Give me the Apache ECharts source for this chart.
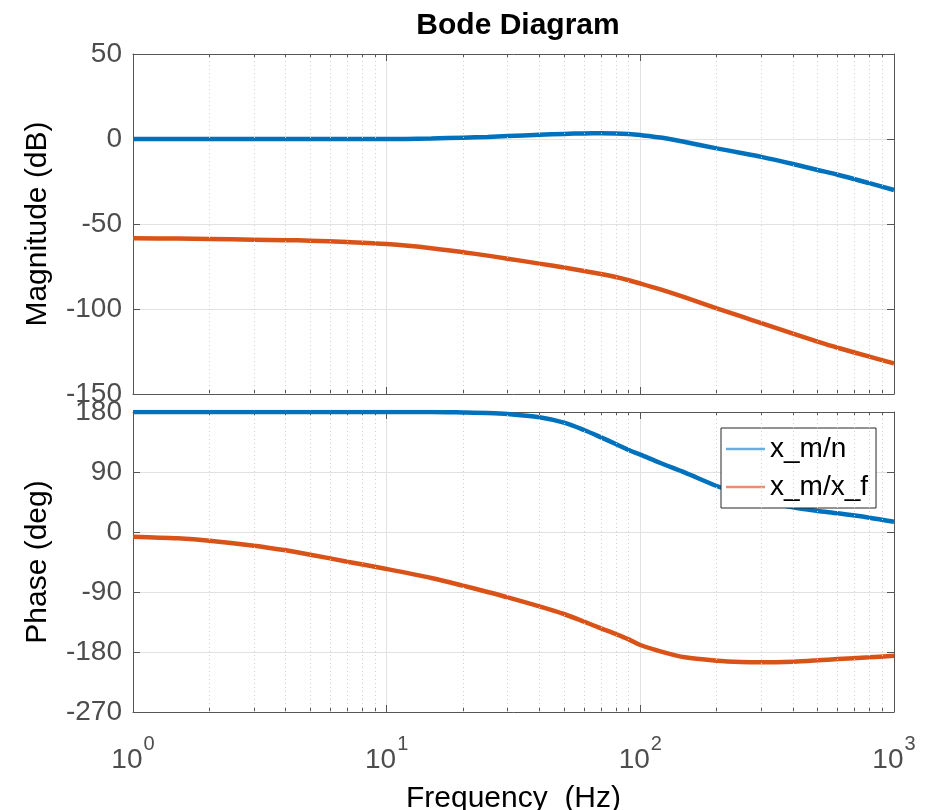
<!DOCTYPE html>
<html lang="en">
  <head>
    <meta charset="utf-8" />
    <title>Bode Diagram</title>
    <script src="https://cdn.jsdelivr.net/npm/echarts@6.0.0/dist/echarts.min.js"></script>
    <style>
      html, body { margin: 0; padding: 0; background: #fff; }
      #chart { width: 935px; height: 810px; }
    </style>
  </head>
  <body>
    <div id="chart"></div>
    <script type="text/javascript">
      // frequency points (Hz)
      var freq = [1, 1.5, 2, 3, 4, 5, 7, 10, 15, 20, 25, 30, 40, 50, 60, 70, 80, 90, 100, 120, 150, 200, 250, 300, 400, 500, 600, 800, 1000];
      // magnitude (dB)
      var magN = [0, 0, 0, 0, 0, 0, 0, 0, 0.3, 0.8, 1.2, 1.7, 2.5, 3.0, 3.3, 3.4, 3.3, 2.9, 2.3, 0.9, -1.8, -5.5, -8.2, -10.5, -14.7, -18.2, -21, -26, -30];
      var magF = [-58.4, -58.6, -58.8, -59.2, -59.5, -59.8, -60.6, -61.8, -64.2, -66.6, -68.6, -70.4, -73.3, -75.6, -77.6, -79.4, -81.2, -83.1, -85, -88.5, -93.2, -99.6, -104.4, -108.3, -114.5, -119.2, -122.8, -128, -132];
      // phase (deg)
      var phN = [180, 180, 180, 180, 180, 180, 180, 180, 180, 179.3, 178.5, 177, 172, 164, 153, 142, 132, 123, 116, 103.5, 89, 69, 57, 48, 37, 31.5, 28, 21.5, 15.5];
      var phF = [-7, -9.5, -13, -20.5, -27.5, -34, -44.5, -55.5, -69, -80.5, -90, -98, -111.5, -123, -134.5, -144.5, -153, -161, -169.5, -179, -188, -193, -195, -195.5, -194.5, -192.5, -190.5, -188, -185.5];
      // minor grid frequencies
      var minorFreqs = [2, 3, 4, 5, 6, 7, 8, 9, 20, 30, 40, 50, 60, 70, 80, 90, 200, 300, 400, 500, 600, 700, 800, 900];
      var names = ["x_m/n", "x_m/x_f"];

      function pairs(ys) {
        return freq.map(function (f, i) { return [f, ys[i]]; });
      }

      var axisColor = "#555";
      var tickColor = "#4d4d4d";
      var fontFam = "Liberation Sans, Arial, sans-serif";

      function xAx(grid, pos, showLabel) {
        return {
          type: "log", logBase: 10, gridIndex: grid, position: pos,
          min: 1, max: 1000,
          axisLine: { show: true, onZero: false, lineStyle: { color: axisColor, width: 1 } },
          axisTick: { show: true, inside: true, length: 7, lineStyle: { color: axisColor } },
          minorTick: { show: true, splitNumber: 9, length: 4, lineStyle: { color: axisColor } },
          splitLine: { show: pos === "bottom", lineStyle: { color: "#e2e2e2", width: 1 } },
          axisLabel: showLabel ? {
            show: true, margin: 22,
            formatter: function (v) {
              var e = Math.round(Math.log10(v));
              return "{b|10}{s|" + e + "}";
            },
            rich: {
              b: { fontSize: 28, color: tickColor, fontFamily: fontFam, lineHeight: 40, verticalAlign: "bottom" },
              s: { fontSize: 20, color: tickColor, fontFamily: fontFam, lineHeight: 40, verticalAlign: "top", padding: [0, 0, 0, 1] }
            }
          } : { show: false },
          name: showLabel ? "Frequency  (Hz)" : "",
          nameLocation: "middle",
          nameGap: 72,
          nameTextStyle: { fontSize: 30, color: "#000", fontFamily: fontFam }
        };
      }

      function yAx(grid, pos, min, max, step, name) {
        var left = pos === "left";
        return {
          type: "value", gridIndex: grid, position: pos,
          min: min, max: max, interval: step,
          axisLine: { show: true, lineStyle: { color: axisColor, width: 1 } },
          axisTick: { show: true, inside: true, length: 7, lineStyle: { color: axisColor } },
          splitLine: { show: left, lineStyle: { color: "#e2e2e2", width: 1 } },
          axisLabel: left ? { show: true, fontSize: 28, color: tickColor, fontFamily: fontFam, margin: 11 } : { show: false },
          name: left ? name : "",
          nameLocation: "middle",
          nameGap: 80,
          nameTextStyle: { fontSize: 30, color: "#000", fontFamily: fontFam }
        };
      }

      function minorGrid(xi, yi) {
        return {
          name: "minor", type: "line", xAxisIndex: xi, yAxisIndex: yi, data: [], z: 1,
          markLine: {
            silent: true, symbol: "none", label: { show: false },
            lineStyle: { type: [1, 3], color: "#d0d0d0", width: 1 },
            data: minorFreqs.map(function (v) { return { xAxis: v }; })
          }
        };
      }

      function curve(name, ys, color, xi, yi) {
        return {
          name: name, type: "line", xAxisIndex: xi, yAxisIndex: yi,
          data: pairs(ys), showSymbol: false, symbol: "none",
          smooth: 0.3, z: 3,
          lineStyle: { color: color, width: 4.5 },
          itemStyle: { color: color }
        };
      }

      var myChart = echarts.init(document.getElementById("chart"));
      myChart.setOption({
        animation: false,
        backgroundColor: "#fff",
        title: {
          text: "Bode Diagram", left: 513, top: 6, textAlign: "center",
          textStyle: { fontSize: 30, fontWeight: "bold", color: "#000", fontFamily: fontFam }
        },
        legend: {
          data: [
            { name: names[0], itemStyle: { color: "#6aaee0" } },
            { name: names[1], itemStyle: { color: "#e8906a" } }
          ],
          icon: "rect",
          orient: "vertical", left: 721, top: 428,
          padding: [7, 8, 7, 5], itemGap: 10, itemWidth: 39, itemHeight: 2.5,
          backgroundColor: "#fff", borderColor: "#262626", borderWidth: 1, borderRadius: 0,
          textStyle: { fontSize: 28, color: "#000", fontFamily: fontFam, lineHeight: 28 }
        },
        grid: [
          { left: 133, top: 54, width: 761, height: 340, outerBoundsMode: "none" },
          { left: 133, top: 412, width: 761, height: 300, outerBoundsMode: "none" }
        ],
        xAxis: [xAx(0, "bottom", false), xAx(0, "top", false), xAx(1, "bottom", true), xAx(1, "top", false)],
        yAxis: [
          yAx(0, "left", -150, 50, 50, "Magnitude (dB)"),
          yAx(0, "right", -150, 50, 50, ""),
          yAx(1, "left", -270, 180, 90, "Phase (deg)"),
          yAx(1, "right", -270, 180, 90, "")
        ],
        series: [
          minorGrid(0, 0),
          minorGrid(2, 2),
          curve(names[0], magN, "#0072BD", 0, 0),
          curve(names[1], magF, "#D95319", 0, 0),
          curve(names[0], phN, "#0072BD", 2, 2),
          curve(names[1], phF, "#D95319", 2, 2)
        ]
      });
    </script>
  </body>
</html>
